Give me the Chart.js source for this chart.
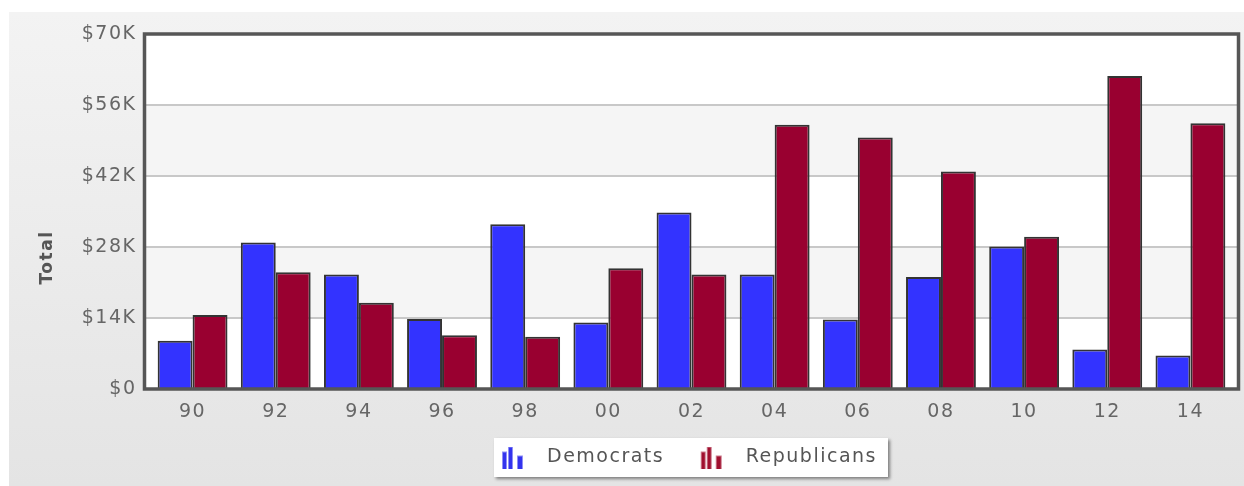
<!DOCTYPE html>
<html lang="en">
<head>
<meta charset="utf-8">
<script src="https://cdn.jsdelivr.net/npm/chart.js@4.4.1/dist/chart.umd.min.js"></script>
<style>
    body { margin: 0; background: #fff; }
    #panel {
        position: absolute; left: 9px; top: 12px;
        width: 1235px; height: 474px;
        background: linear-gradient(#f3f3f3, #e4e4e4);
    }
</style>
</head>
<body>
<div id="panel"><canvas id="myChart" width="1235" height="474"></canvas></div>
<script>
const years = ["90", "92", "94", "96", "98", "00", "02", "04", "06", "08", "10", "12", "14"]
const democrats = [9500, 28900, 22600, 13800, 32500, 13100, 34800, 22600, 13700, 22100, 28100, 7800, 6600]
const republicans = [14600, 23000, 17000, 10600, 10300, 23800, 22600, 52100, 49600, 42900, 30000, 61700, 52400]
const yTicks = [0, 14000, 28000, 42000, 56000, 70000]

const font = "'DejaVu Sans', Verdana, sans-serif"
// the framed plot box is a bit wider than the category range
const inset = 6.5

// little three-bar icon for the legend (left part transparent to push it right)
function legendIcon(color) {
    const c = document.createElement("canvas")
    c.width = 37
    c.height = 22
    const g = c.getContext("2d")
    const bars = [[14, 5, 5], [20, 0, 5], [29, 9, 6]]
    bars.forEach(([x, top, w]) => {
        g.fillStyle = color
        g.globalAlpha = 0.55
        g.fillRect(x, top, w, 22 - top)
        g.globalAlpha = 1
        g.fillRect(x + 1, top + 1, w - 2, 21 - top)
    })
    return c
}

const chartDecor = {
    id: "chartDecor",
    beforeUpdate(chart) {
        chart.ctx.letterSpacing = "1.5px"
    },
    afterLayout(chart) {
        chart.legend.left = 456.5
        chart.legend.right = 1229
    },
    beforeDraw(chart) {
        const ctx = chart.ctx
        ctx.letterSpacing = "1.5px"
        const { top, bottom } = chart.chartArea
        const left = chart.chartArea.left - inset
        const right = chart.chartArea.right + inset
        const y = chart.scales.y
        ctx.save()
        ctx.fillStyle = "#fff"
        ctx.fillRect(left, top, right - left, bottom - top)
        ctx.fillStyle = "#f5f5f5"
        for (let i = 1; i < yTicks.length - 1; i += 2) {
            const y0 = y.getPixelForValue(yTicks[i])
            const y1 = y.getPixelForValue(yTicks[i + 1])
            ctx.fillRect(left, y1, right - left, y0 - y1)
        }
        ctx.strokeStyle = "#c8c8c8"
        ctx.lineWidth = 2
        for (let i = 1; i < yTicks.length - 1; i++) {
            const py = y.getPixelForValue(yTicks[i])
            ctx.beginPath()
            ctx.moveTo(left, py)
            ctx.lineTo(right, py)
            ctx.stroke()
        }
        // white legend box with a shadow
        const lg = chart.legend
        const hb = lg.legendHitBoxes
        if (hb && hb.length) {
            const bx = hb[0].left + 26.5 - 8
            const last = hb[hb.length - 1]
            const bw = last.left + last.width + 11 - bx
            ctx.shadowColor = "rgba(0,0,0,0.45)"
            ctx.shadowOffsetX = 2
            ctx.shadowOffsetY = 2
            ctx.shadowBlur = 3
            ctx.fillStyle = "#fff"
            ctx.fillRect(bx, lg.top, bw, lg.height)
        }
        ctx.restore()
        // axis title, sits lower than the middle of the axis
        ctx.save()
        ctx.translate(38.5, 245.5)
        ctx.rotate(-Math.PI / 2)
        ctx.font = "bold 17px " + font
        ctx.fillStyle = "#555"
        ctx.textAlign = "center"
        ctx.textBaseline = "middle"
        ctx.fillText("Total", 0, 0)
        ctx.restore()
    },
    afterDatasetsDraw(chart) {
        const ctx = chart.ctx
        const { left, right, top, bottom } = chart.chartArea
        ctx.save()
        ctx.strokeStyle = "#565656"
        ctx.lineWidth = 3.5
        ctx.strokeRect(left - inset, top, right - left + 2 * inset, bottom - top)
        ctx.restore()
    },
}

const ctx = document.getElementById("myChart")
new Chart(ctx, {
    type: "bar",
    data: {
        labels: years,
        datasets: [
            {
                label: "Democrats",
                data: democrats,
                backgroundColor: "#3333ff",
                borderColor: "#333",
                borderWidth: 2,
                pointStyle: legendIcon("#3333ee"),
            },
            {
                label: "Republicans",
                data: republicans,
                backgroundColor: "#990030",
                borderColor: "#333",
                borderWidth: 2,
                pointStyle: legendIcon("#a0102f"),
            },
        ],
    },
    options: {
        responsive: false,
        animation: false,
        categoryPercentage: 0.84,
        barPercentage: 1.0,
        layout: { padding: { top: 22, right: 12, bottom: 9, left: 0 } },
        plugins: {
            tooltip: { enabled: false },
            legend: {
                position: "bottom",
                fullSize: false,
                align: "start",
                labels: {
                    usePointStyle: true,
                    pointStyleWidth: 62,
                    padding: 10,
                    color: "#555",
                    font: { family: font, size: 19 },
                },
            },
        },
        scales: {
            x: {
                grid: { display: false, drawTicks: false },
                border: { display: false },
                ticks: { color: "#666", padding: 12, font: { family: font, size: 19 } },
                afterFit: (scale) => {
                    scale.height = 49
                    scale.paddingLeft = 0
                    scale.paddingRight = 0
                },
            },
            y: {
                min: 0,
                max: 70000,
                grid: { display: false, drawTicks: false },
                border: { display: false },
                ticks: {
                    stepSize: 14000,
                    color: "#666",
                    padding: 8 + inset,
                    font: { family: font, size: 19 },
                    callback: (value) => (value === 0 ? "$0" : "$" + value / 1000 + "K"),
                },
                afterFit: (scale) => {
                    scale.width = 135.5 + inset
                    scale.paddingTop = 0
                    scale.paddingBottom = 0
                },
            },
        },
    },
    plugins: [chartDecor],
})
</script>
</body>
</html>
